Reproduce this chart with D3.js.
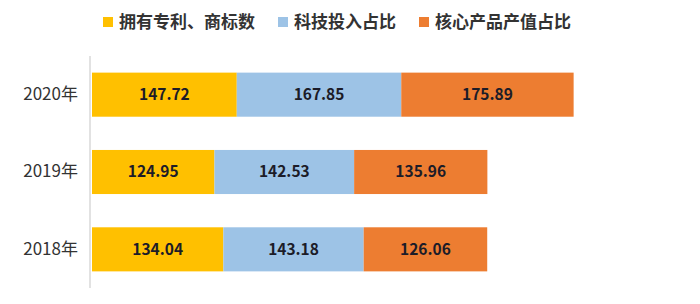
<!DOCTYPE html>
<html>
<head>
<meta charset="utf-8">
<script src="https://cdn.jsdelivr.net/npm/d3@7"></script>
<style>
  body { margin: 0; background: #fff; }
  text { font-family: "Noto Sans CJK SC", "Noto Sans", sans-serif; }
</style>
</head>
<body>
<svg id="chart" width="700" height="304"></svg>
<script>
// 数据
var years = ["2020年", "2019年", "2018年"];
var seriesNames = ["拥有专利、商标数", "科技投入占比", "核心产品产值占比"];
var patents = [147.72, 124.95, 134.04];
var techInput = [167.85, 142.53, 143.18];
var coreOutput = [175.89, 135.96, 126.06];
var colors = ["#FFC000", "#9DC3E6", "#ED7D31"];

var width = 700, height = 304;
var margin = { top: 56, right: 118, bottom: 16, left: 92 };

var rows = years.map(function (y, i) {
    return { year: y, v: [patents[i], techInput[i], coreOutput[i]] };
});

var stack = d3.stack().keys([0, 1, 2]).value(function (d, k) { return d.v[k]; });
var layers = stack(rows);

// 比例尺
var xScale = d3.scaleLinear()
    .domain([0, 500])
    .range([margin.left, width - margin.right]);
var yScale = d3.scaleBand()
    .domain(years)
    .range([margin.top, height - margin.bottom])
    .paddingInner(0.43)
    .paddingOuter(0.215);

var svg = d3.select("#chart");

// 绘制条
var g = svg.selectAll("g.layer")
    .data(layers)
    .enter()
    .append("g")
    .attr("class", "layer")
    .attr("fill", function (d, i) { return colors[i]; });

g.selectAll("rect")
    .data(function (d) { return d; })
    .enter()
    .append("rect")
    .attr("x", function (d) { return xScale(d[0]); })
    .attr("y", function (d) { return yScale(d.data.year); })
    .attr("width", function (d) { return xScale(d[1]) - xScale(d[0]); })
    .attr("height", yScale.bandwidth());

// 数值标签
g.selectAll("text")
    .data(function (d, i) { return d.map(function (p) { return { p: p, k: i }; }); })
    .enter()
    .append("text")
    .attr("x", function (d) { return (xScale(d.p[0]) + xScale(d.p[1])) / 2; })
    .attr("y", function (d) { return yScale(d.p.data.year) + yScale.bandwidth() / 2; })
    .attr("dy", "0.35em")
    .attr("text-anchor", "middle")
    .attr("fill", "#1c1c28")
    .attr("font-size", 15.5)
    .attr("font-weight", "bold")
    .text(function (d) { return d3.format(".2f")(d.p.data.v[d.k]); });

// 坐标轴
var yAxis = d3.axisLeft(yScale).tickSize(0).tickPadding(12);
var axisG = svg.append("g")
    .attr("transform", "translate(" + (margin.left - 2) + ",0)")
    .call(yAxis);
axisG.select(".domain")
    .attr("stroke", "#d9d9d9")
    .attr("stroke-width", 1.5)
    .attr("d", "M0," + (margin.top) + "V" + (height - margin.bottom));
axisG.selectAll(".tick text")
    .attr("font-size", 17)
    .attr("fill", "#333")
    .style("font-family", "\"Noto Sans CJK SC\", sans-serif");

// 图例
var legend = svg.append("g").attr("transform", "translate(103,22)");
var lx = 0;
seriesNames.forEach(function (name, i) {
    var item = legend.append("g").attr("transform", "translate(" + lx + ",0)");
    item.append("rect")
        .attr("x", 0).attr("y", -5)
        .attr("width", 10).attr("height", 10)
        .attr("fill", colors[i]);
    var t = item.append("text")
        .attr("x", 16).attr("dy", "0.35em")
        .attr("font-size", 17)
        .attr("font-weight", "bold")
        .attr("fill", "#333")
        .text(name);
    lx += 16 + t.node().getComputedTextLength() + 23;
});
</script>
</body>
</html>
